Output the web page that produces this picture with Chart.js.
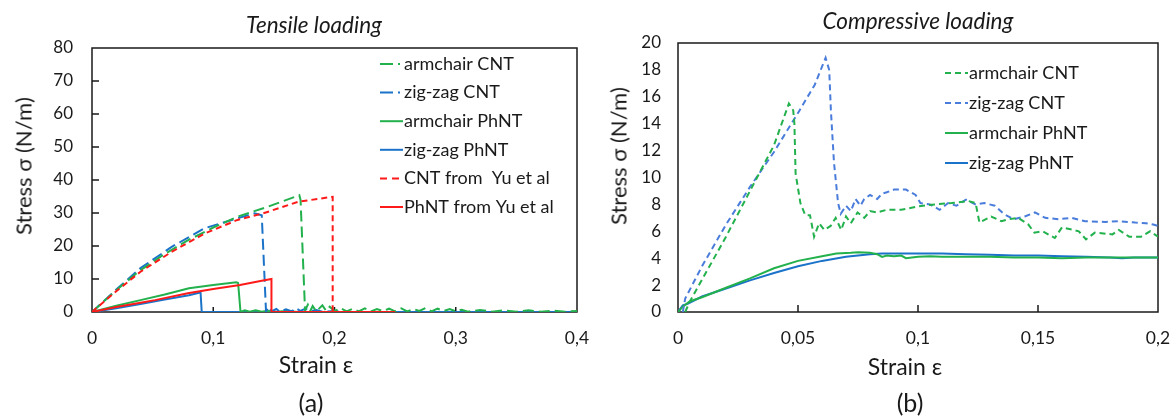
<!DOCTYPE html>
<html>
<head>
<meta charset="utf-8">
<script src="https://cdn.jsdelivr.net/npm/chart.js@4.4.0/dist/chart.umd.min.js"></script>
<style>
  body { margin: 0; background: #fff; width: 1171px; height: 418px; position: relative; overflow: hidden; font-family: Lato, sans-serif; color: #1a1a1a; }
  canvas { position: absolute; top: 0; }
  .t { position: absolute; white-space: nowrap; transform: translate(-50%, -50%); }
  .title { font-style: italic; font-size: 22.5px; }
  .axis { font-size: 23px; }
  .ytitle { font-size: 22px; transform: translate(-50%, -50%) rotate(-90deg); }
  .panel { font-size: 25px; }
</style>
</head>
<body>
<canvas id="tensile" width="600" height="418" style="left:0"></canvas>
<canvas id="compressive" width="586" height="418" style="left:585px"></canvas>

<div class="t title" style="left:314px;top:24px">Tensile loading</div>
<div class="t title" style="left:918px;top:20px">Compressive loading</div>
<div class="t axis" style="left:316px;top:364px">Strain ε</div>
<div class="t axis" style="left:905px;top:366px">Strain ε</div>
<div class="t ytitle" style="left:23px;top:166px">Stress σ (N/m)</div>
<div class="t ytitle" style="left:618px;top:156px">Stress σ (N/m)</div>
<div class="t panel" style="left:311px;top:402px">(a)</div>
<div class="t panel" style="left:910px;top:402px">(b)</div>

<script>
// ---- tensile loading: [strain, stress N/m] ----
const armchairCntT = [[0,0],[0.02,6.6],[0.04,12.7],[0.06,17.6],[0.08,21.9],[0.1,25.6],[0.12,28.9],[0.145,31.9],[0.171,35.4],[0.172,34],[0.1757,0.5],
  [0.178,2.2],[0.18,0.3],[0.182,1.8],[0.185,0.2],[0.19,2.0],[0.193,0.4],[0.196,1.6],[0.2,0.3],[0.205,1.2],[0.21,0.2],[0.215,1.0],[0.22,0.2],
  [0.225,1.1],[0.23,0.2],[0.235,0.9],[0.24,0.3],[0.245,1.0],[0.25,0.2],[0.255,1.1],[0.26,0.2],[0.265,0.9],[0.27,0.3],[0.275,1.2],[0.28,0.2],
  [0.285,1.0],[0.29,0.3],[0.295,0.9],[0.3,0.2],[0.305,0.7],[0.31,0.1],[0.32,0.6],[0.33,0.1],[0.34,0.5],[0.35,0.1],[0.36,0.5],[0.37,0.1],
  [0.38,0.4],[0.39,0.1],[0.4,0.3]];
const zigzagCntT = [[0,0],[0.02,6.8],[0.04,13.3],[0.066,19.8],[0.093,25.4],[0.12,28.4],[0.134,29.9],[0.14,29.3],[0.1435,0.3],[0.146,1.5],
  [0.148,0.2],[0.152,0.9],[0.155,0.1],[0.16,0.8],[0.165,0.2],[0.168,1.2],[0.172,0.3],[0.176,1.0],[0.18,0.2],[0.185,0.6],[0.19,0.1],
  [0.2,0.3],[0.21,0],[0.4,0]];
const armchairPhntT = [[0,0],[0.02,1.9],[0.04,3.6],[0.06,5.3],[0.08,7.2],[0.1,8.2],[0.119,9.0],[0.1205,8.8],[0.1225,0],[0.126,0.5],
  [0.13,0.1],[0.135,0.5],[0.14,0.1],[0.145,0.4],[0.15,0],[0.16,0.3],[0.17,0]];
const zigzagPhntT = [[0,0],[0.02,1.1],[0.04,2.4],[0.06,3.8],[0.08,5.1],[0.089,5.9],[0.0895,6.1],[0.0905,0],[0.4,0]];
const cntYuT = [[0,0],[0.02,6.3],[0.04,12.2],[0.066,18.3],[0.093,23.8],[0.12,27.9],[0.1413,29.9],[0.17,33.4],[0.1985,34.9],[0.1985,0],[0.25,0]];
const phntYuT = [[0,0],[0.02,1.5],[0.04,2.8],[0.052,3.6],[0.079,5.7],[0.1,7.0],[0.122,8.2],[0.14,9.45],[0.148,10.0],[0.148,0],[0.25,0]];

// ---- compressive loading ----
const armchairCntC = [[0.003,0],[0.005,0.8],[0.01,2.4],[0.02,5.6],[0.03,9.0],[0.04,12.4],[0.0462,15.5],[0.048,15.0],[0.0485,14.0],
  [0.049,10.3],[0.051,8.1],[0.053,7.2],[0.055,7.2],[0.0567,5.6],[0.0588,6.6],[0.061,6.1],[0.0636,6.4],[0.0657,7.0],[0.068,6.1],
  [0.07,7.1],[0.072,6.6],[0.0748,7.4],[0.0776,7.0],[0.08,7.5],[0.083,7.4],[0.087,7.6],[0.093,7.6],[0.1,7.85],[0.107,8.0],[0.114,8.1],
  [0.121,8.25],[0.124,8.1],[0.1256,6.65],[0.1305,7.1],[0.1347,6.75],[0.138,6.9],[0.1418,7.0],[0.146,6.5],[0.1485,5.9],[0.152,6.0],
  [0.157,5.5],[0.16,6.3],[0.167,6.0],[0.17,5.4],[0.1737,5.9],[0.181,5.77],[0.1837,6.1],[0.188,5.6],[0.193,5.6],[0.1967,6.0],[0.2,5.6]];
const zigzagCntC = [[0.002,0],[0.003,1.0],[0.01,3.4],[0.02,6.5],[0.03,9.3],[0.04,11.9],[0.05,14.8],[0.057,16.9],[0.0615,18.9],[0.063,18.0],
  [0.0637,15],[0.065,11.1],[0.0667,8.1],[0.0678,7.3],[0.07,7.9],[0.072,7.5],[0.074,8.4],[0.076,7.9],[0.0776,8.4],[0.08,8.7],[0.083,8.4],
  [0.085,8.8],[0.087,8.9],[0.09,9.1],[0.095,9.1],[0.099,8.7],[0.101,8.1],[0.105,8.0],[0.109,7.6],[0.1125,8.1],[0.116,7.9],[0.12,8.35],
  [0.124,8.0],[0.1277,8.1],[0.132,7.9],[0.136,7.25],[0.14,6.9],[0.1445,7.1],[0.1487,7.4],[0.153,7.0],[0.1585,6.9],[0.164,7.0],
  [0.1696,6.75],[0.178,6.7],[0.184,6.75],[0.1905,6.65],[0.195,6.6],[0.198,6.5],[0.2,6.4]];
const armchairPhntC = [[0,0],[0.002,0.4],[0.005,0.8],[0.01,1.1],[0.02,1.8],[0.03,2.5],[0.04,3.25],[0.05,3.8],[0.06,4.15],[0.066,4.35],
  [0.072,4.4],[0.075,4.45],[0.08,4.4],[0.083,4.3],[0.085,4.1],[0.087,4.2],[0.09,4.15],[0.093,4.2],[0.095,4.0],[0.1,4.1],[0.105,4.15],
  [0.11,4.1],[0.12,4.1],[0.13,4.1],[0.14,4.05],[0.15,4.05],[0.16,4.0],[0.17,4.05],[0.18,4.05],[0.19,4.05],[0.2,4.05]];
const zigzagPhntC = [[0,0],[0.002,0.5],[0.004,0.6],[0.01,1.15],[0.02,1.75],[0.03,2.35],[0.04,2.9],[0.05,3.4],[0.06,3.8],[0.07,4.1],
  [0.08,4.3],[0.085,4.35],[0.09,4.35],[0.1,4.35],[0.11,4.35],[0.12,4.3],[0.13,4.25],[0.14,4.2],[0.15,4.2],[0.16,4.15],[0.17,4.1],
  [0.18,4.05],[0.185,4.0],[0.19,4.05],[0.2,4.05]];

const GREEN = '#22b14c', BLUE = '#1b73c9', BLUE_D = '#4a7ddb', RED = '#ff1a1a';
const FONT = 'Lato, sans-serif';

const pts = arr => arr.map(p => ({ x: p[0], y: p[1] }));
const fmt = v => v === 0 ? '0' : String(+v.toFixed(2)).replace('.', ',');

function line(label, data, color, dash, legendDash, order) {
  return { label, data: pts(data), borderColor: color, borderWidth: 2, borderDash: dash,
           legendDash: legendDash, showLine: true, pointRadius: 0, tension: 0, order: order || 0 };
}

const frame = {
  id: 'frame',
  beforeDatasetsDraw(chart, args, o) {
    const { ctx, chartArea: a, scales } = chart;
    ctx.save();
    ctx.strokeStyle = '#1a1a1a';
    ctx.lineWidth = 1.5;
    ctx.strokeRect(a.left, a.top, a.right - a.left, a.bottom - a.top);
    ctx.beginPath();
    scales.x.ticks.forEach(t => {
      if (t.value <= scales.x.min || t.value >= scales.x.max) return;
      const px = scales.x.getPixelForValue(t.value);
      ctx.moveTo(px, a.bottom); ctx.lineTo(px, a.bottom - o.xLen);
    });
    if (o.yLen) scales.y.ticks.forEach(t => {
      if (t.value <= scales.y.min || t.value >= scales.y.max) return;
      const py = scales.y.getPixelForValue(t.value);
      ctx.moveTo(a.left, py); ctx.lineTo(a.left + o.yLen, py);
    });
    ctx.stroke();
    ctx.restore();
  }
};

const legendBox = {
  id: 'legendBox',
  afterDatasetsDraw(chart, args, o) {
    const { ctx } = chart;
    ctx.save();
    ctx.font = '18px ' + FONT;
    ctx.textBaseline = 'middle';
    ctx.fillStyle = '#1a1a1a';
    chart.data.datasets.forEach((ds, i) => {
      const y = o.y + i * o.step;
      ctx.strokeStyle = ds.borderColor;
      ctx.lineWidth = 2;
      ctx.setLineDash(ds.legendDash);
      ctx.beginPath();
      ctx.moveTo(o.x, y); ctx.lineTo(o.x + 23, y);
      ctx.stroke();
      ctx.setLineDash([]);
      ctx.fillText(ds.label, o.x + 24, y);
    });
    ctx.restore();
  }
};

function options(xMax, xStep, yMax, yStep, pad, yWidth, yPad, xLen, yLen, leg) {
  return {
    responsive: false,
    animation: false,
    layout: { padding: pad },
    plugins: { legend: { display: false }, tooltip: { enabled: false }, frame: { xLen, yLen }, legendBox: leg },
    scales: {
      x: {
        type: 'linear', min: 0, max: xMax,
        grid: { display: false, drawTicks: false }, border: { display: false },
        ticks: { stepSize: xStep, padding: 16, color: '#1a1a1a', font: { family: FONT, size: 17.5 }, maxRotation: 0, callback: fmt },
        afterFit: s => { s.height = 40; s.paddingLeft = 0; s.paddingRight = 0; }
      },
      y: {
        min: 0, max: yMax,
        grid: { display: false, drawTicks: false }, border: { display: false },
        ticks: { stepSize: yStep, padding: yPad, color: '#1a1a1a', font: { family: FONT, size: 17 } },
        afterFit: s => { s.width = yWidth; s.paddingTop = 0; s.paddingBottom = 0; }
      }
    }
  };
}

new Chart(document.getElementById('tensile'), {
  type: 'scatter',
  data: { datasets: [
    line('armchair CNT', armchairCntT, GREEN, [11, 5], [13, 5, 2, 5], 3),
    line('zig-zag CNT', zigzagCntT, BLUE, [11, 5], [13, 5, 2, 5], 4),
    line('armchair PhNT', armchairPhntT, GREEN, [], [], 5),
    line('zig-zag PhNT', zigzagPhntT, BLUE, [], [], 6),
    line('CNT from  Yu et al', cntYuT, RED, [6, 4], [7, 5], 2),
    line('PhNT from Yu et al', phntYuT, RED, [], [], 1)
  ] },
  options: options(0.4, 0.1, 80, 10, { top: 48, right: 23, bottom: 66, left: 0 }, 92, 19, 5, 7,
    { x: 380, y: 64, step: 28.6 }),
  plugins: [frame, legendBox]
});

new Chart(document.getElementById('compressive'), {
  type: 'scatter',
  data: { datasets: [
    line('armchair CNT', armchairCntC, GREEN, [6, 4], [6, 4]),
    line('zig-zag CNT', zigzagCntC, BLUE_D, [6, 4], [6, 4]),
    line('armchair PhNT', armchairPhntC, GREEN, [], []),
    line('zig-zag PhNT', zigzagPhntC, BLUE, [], [])
  ] },
  options: options(0.2, 0.05, 20, 2, { top: 43, right: 13, bottom: 66, left: 0 }, 93, 17, 7, 0,
    { x: 360, y: 73, step: 30 }),
  plugins: [frame, legendBox]
});
</script>
</body>
</html>
